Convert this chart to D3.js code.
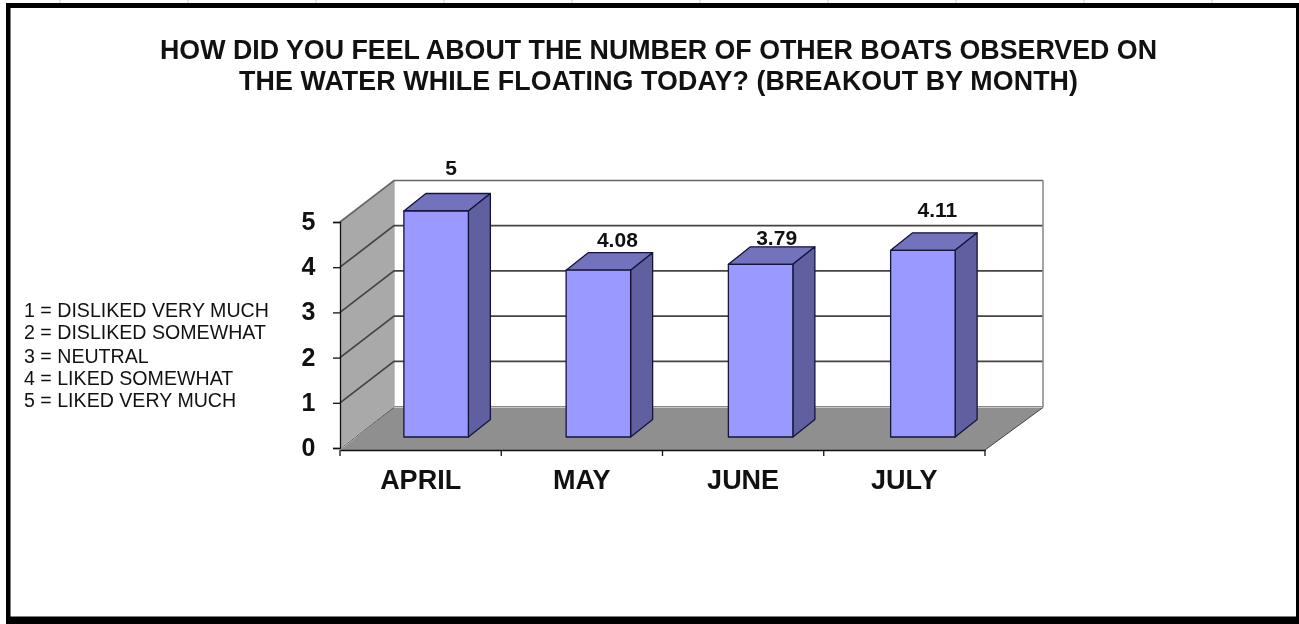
<!DOCTYPE html>
<html><head><meta charset="utf-8">
<script src="https://cdn.jsdelivr.net/npm/d3@7/dist/d3.min.js"></script>
<style>html,body{margin:0;padding:0;background:#fff;overflow:hidden}svg{display:block;filter:blur(0.5px)}text{font-family:"Liberation Sans",Arial,sans-serif;fill:#111}</style>
</head><body><svg id="c" width="1299" height="624"></svg>
<script>
const titleLines = ["HOW DID YOU FEEL ABOUT THE NUMBER OF OTHER BOATS OBSERVED ON","THE WATER WHILE FLOATING TODAY? (BREAKOUT BY MONTH)"];
const months = ["APRIL","MAY","JUNE","JULY"];
const barHeights = [5, 3.69, 3.82, 4.13];
const barLabels = ["5","4.08","3.79","4.11"];
const yTicks = [0,1,2,3,4,5];
const legendLines = ["1 = DISLIKED VERY MUCH","2 = DISLIKED SOMEWHAT","3 = NEUTRAL","4 = LIKED SOMEWHAT","5 = LIKED VERY MUCH"];
const sheetTicks = [60,188,316,444,572,700,828,956,1084,1212];

const svg = d3.select("#c");
// sheet marks + frame
svg.selectAll(".st").data(sheetTicks).join("line").attr("x1",d=>d).attr("x2",d=>d).attr("y1",0).attr("y2",3).attr("stroke","#ccc");
[[6,3,1293,5],[6,3,4.5,621],[1296,3,3,621],[6,616.5,1293,7.5]].forEach(r=>svg.append("rect").attr("x",r[0]).attr("y",r[1]).attr("width",r[2]).attr("height",r[3]).attr("fill","#000"));

const titleBase=[58.5,90];
const titleLen=[997,839];
titleLines.forEach((t,i)=>svg.append("text").attr("x",658.5).attr("y",titleBase[i]).attr("text-anchor","middle").attr("font-size",26.8).attr("font-weight","bold").attr("textLength",titleLen[i]).attr("lengthAdjust","spacing").text(t));

const legendY=[317,339,362.5,385,407];
legendLines.forEach((t,i)=>svg.append("text").attr("x",24).attr("y",legendY[i]).attr("font-size",19.6).attr("fill","#222").text(t));

// geometry
const x = d3.scaleBand().domain(months).range([340,985]);
const xBar = d3.scaleBand().domain(months).range([355,1004]);
const y = d3.scaleLinear().domain([0,5]).range([448,222]);
const depth = {dx:54, dy:-41.5};
const barDepth = {dx:22, dy:-17.5};
const barW = 64.5;
const line = d3.line();

// back wall
const g = svg.append("g");
const backX0 = x.range()[0]+depth.dx, backX1 = 1043;
const floorBack = y(0)+depth.dy+1;
g.append("rect").attr("x",backX0).attr("y",y(5)+depth.dy).attr("width",backX1-backX0).attr("height",y(0)-y(5)).attr("fill","#fff").attr("stroke","#888");
// left wall
g.append("path").attr("d",line([[340,y(0)],[340+depth.dx,floorBack],[340+depth.dx,y(5)+depth.dy],[340,y(5)]])+"Z").attr("fill","#a9a9a9");
// floor
g.append("path").attr("d",line([[340,450],[985,450],[backX1,floorBack],[backX0,floorBack]])+"Z").attr("fill","#8f8f8f");
// gridlines
yTicks.forEach(v=>{
  const yy=y(v);
  if(v>0) g.append("path").attr("d",line([[340,yy],[backX0,yy+depth.dy],[backX1,yy+depth.dy]])).attr("fill","none").attr("stroke",v==5?"#666":"#444").attr("stroke-width",1.7);
});
g.append("line").attr("x1",backX1).attr("x2",backX1).attr("y1",y(5)+depth.dy).attr("y2",floorBack).attr("stroke","#999").attr("stroke-width",1.5);
g.append("path").attr("d",line([[340,y(0)+1],[backX0,floorBack]])).attr("stroke","#555").attr("fill","none");
g.append("path").attr("d",line([[985,450],[backX1,floorBack]])).attr("stroke","#444").attr("fill","none");

// axes
const yAxis = d3.axisLeft(y).tickValues(yTicks).tickSize(7).tickFormat(d3.format("d"));
const ya = svg.append("g").attr("transform","translate(340,0)").call(yAxis);
ya.selectAll("text").attr("font-size",25).attr("font-weight","bold").attr("x",-24.5).attr("dy","0.3em").style("fill","#111");
ya.selectAll("line,path").attr("stroke","#111").attr("stroke-width",1.3);
const xa = svg.append("g").attr("transform","translate(0,450)").call(d3.axisBottom(x).tickValues([]).tickSizeOuter(0));
xa.selectAll("path").attr("stroke","#111").attr("stroke-width",1.6);
[...months.map(m=>x(m)), 985].forEach(v=>xa.append("line").attr("x1",v).attr("x2",v).attr("y1",0).attr("y2",6).attr("stroke","#111").attr("stroke-width",1.3));
months.forEach(m=>xa.append("text").attr("x",x(m)+x.bandwidth()/2).attr("y",39).attr("text-anchor","middle").attr("font-size",27).attr("font-weight","bold").style("fill","#111").text(m));

// bars
const by0 = 437;
const barLabelDx = [15,19,16,14.5];
const barLabelUp = [36,23,19,33];
const barsG = svg.append("g").selectAll("g").data(months).join("g");
barsG.each(function(m,i){
  const s=d3.select(this), c=xBar(m)+xBar.bandwidth()/2, l=c-barW/2, r=c+barW/2, t=by0-(y(0)-y(barHeights[i])), b=by0, dx=barDepth.dx, dy=barDepth.dy;
  const add=(pts,fill)=>s.append("path").attr("d",line(pts)+"Z").attr("fill",fill).attr("stroke","#14143c").attr("stroke-width",1.3).attr("stroke-linejoin","round");
  add([[l,t],[r,t],[r+dx,t+dy],[l+dx,t+dy]],"#7272bd");
  add([[r,t],[r+dx,t+dy],[r+dx,b+dy],[r,b]],"#6060a0");
  add([[l,t],[r,t],[r,b],[l,b]],"#9999ff");
  s.append("text").attr("x",c+barLabelDx[i]).attr("y",t-barLabelUp[i]).attr("text-anchor","middle").attr("font-size",21).attr("font-weight","bold").text(barLabels[i]);
});
</script>
</body></html>
